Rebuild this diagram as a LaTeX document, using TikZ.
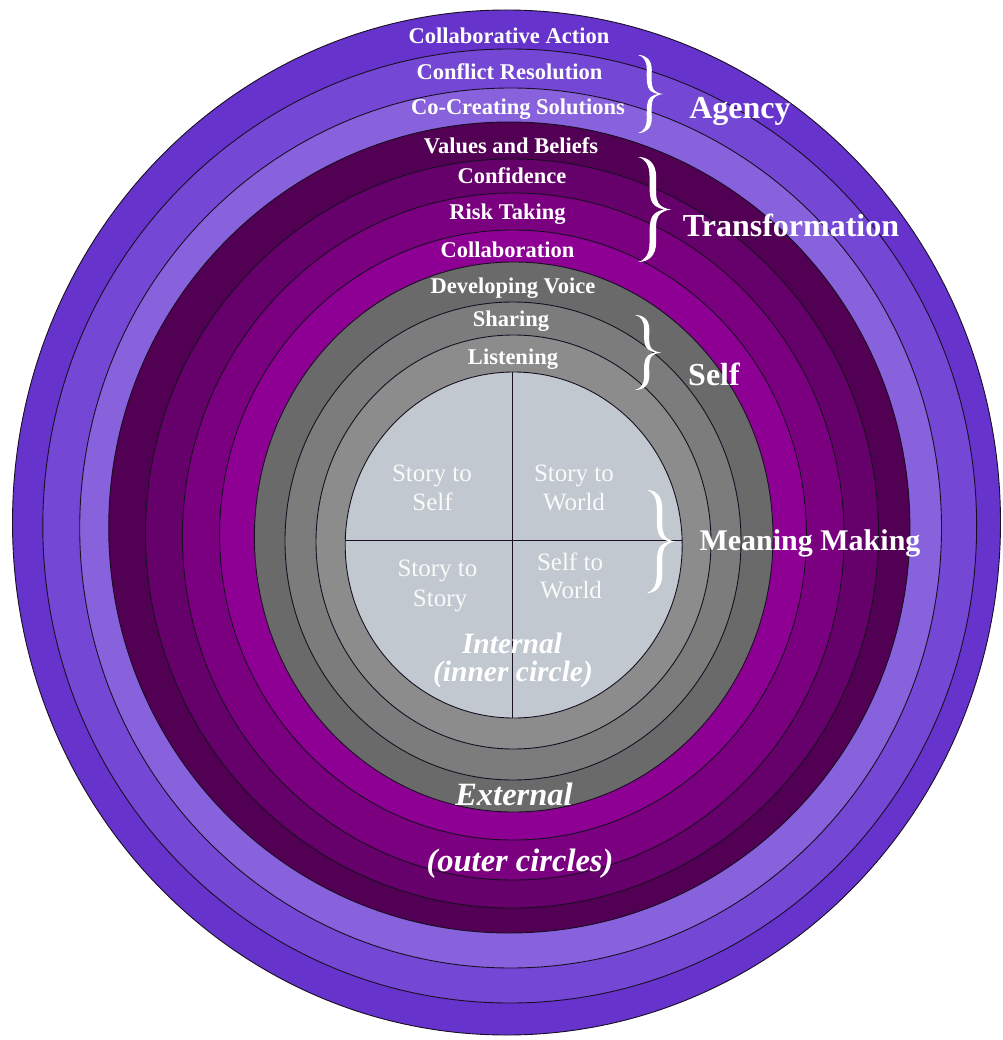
\documentclass[tikz,border=0pt]{standalone}
\usepackage{fontspec}
\setmainfont{Liberation Serif}
% ring fills, outermost first
\definecolor{ringK}{RGB}{102,51,204}
\definecolor{ringJ}{RGB}{116,72,212}
\definecolor{ringI}{RGB}{136,98,220}
\definecolor{ringH}{RGB}{82,0,84}
\definecolor{ringG}{RGB}{102,0,106}
\definecolor{ringF}{RGB}{122,0,128}
\definecolor{ringE}{RGB}{142,0,148}
\definecolor{ringD}{RGB}{106,106,106}
\definecolor{ringC}{RGB}{124,124,124}
\definecolor{ringB}{RGB}{140,140,140}
\definecolor{core}{RGB}{193,200,207}
\definecolor{edge}{RGB}{25,15,35}
\begin{document}
\begin{tikzpicture}[x=1pt,y=-1pt,
  ringline/.style={draw=edge, line width=0.9pt},
  ringlabel/.style={text=white, font=\bfseries\fontsize{22.5}{24}\selectfont, anchor=base, inner sep=0},
  grouplabel/.style={text=white, font=\bfseries\fontsize{32}{34}\selectfont, anchor=base, inner sep=0},
  quadlabel/.style={text=white!96!gray, font=\fontsize{25}{28}\selectfont, anchor=base, inner sep=0},
  placelabel/.style={text=white, font=\bfseries\itshape\fontsize{30}{32}\selectfont, anchor=base, inner sep=0},
  % a calligraphic closing brace, unit width, from y=-1 to y=1, tip at (1,0)
  curlybrace/.pic={
    \fill[white]
      (0,1) .. controls (0.32,1.0) and (0.55,0.88) .. (0.55,0.62)
      .. controls (0.55,0.38) and (0.52,0.22) .. (0.62,0.12)
      .. controls (0.70,0.05) and (0.85,0.01) .. (1,0)
      .. controls (0.85,-0.01) and (0.70,-0.05) .. (0.62,-0.12)
      .. controls (0.52,-0.22) and (0.55,-0.38) .. (0.55,-0.62)
      .. controls (0.55,-0.88) and (0.32,-1.0) .. (0,-1)
      .. controls (0.22,-0.96) and (0.35,-0.86) .. (0.35,-0.62)
      .. controls (0.35,-0.36) and (0.33,-0.18) .. (0.50,-0.08)
      .. controls (0.60,-0.03) and (0.72,-0.01) .. (0.80,0)
      .. controls (0.72,0.01) and (0.60,0.03) .. (0.50,0.08)
      .. controls (0.33,0.18) and (0.35,0.36) .. (0.35,0.62)
      .. controls (0.35,0.86) and (0.22,0.96) .. (0,1) -- cycle;
  },
]
\useasboundingbox (0,0) rectangle (1002,1040);

% concentric rings, drawn from the outside in
\path[ringline, fill=ringK] (506.5,522.5) ellipse [x radius=494,   y radius=512.5];
\path[ringline, fill=ringJ] (509.7,526)   ellipse [x radius=466.9, y radius=477];
\path[ringline, fill=ringI] (510.6,528)   ellipse [x radius=430.9, y radius=440];
\path[ringline, fill=ringH] (509.3,527.5) ellipse [x radius=400.6, y radius=405.5];
\path[ringline, fill=ringG] (512,533.5)   ellipse [x radius=366.5, y radius=374.5];
\path[ringline, fill=ringF] (513.2,536.5) ellipse [x radius=330.8, y radius=343.5];
\path[ringline, fill=ringE] (513,535)     ellipse [x radius=293.4, y radius=305];
\path[ringline, fill=ringD] (513.7,537)   ellipse [x radius=259.3, y radius=275];
\path[ringline, fill=ringC] (513,541)     ellipse [x radius=228,   y radius=239];
\path[ringline, fill=ringB] (513.5,542)   ellipse [x radius=197.5, y radius=207];
\path[ringline, fill=core]  (513.7,545)   ellipse [x radius=168.5, y radius=173];

% quadrant dividers of the inner circle
\begin{scope}
  \clip (513.7,545) ellipse [x radius=168.5, y radius=173];
  \draw[ringline] (512,360) -- (512,730);
  \draw[ringline] (330,540) -- (700,540);
\end{scope}

% ring names
\node[ringlabel] (lAction)   at (509,43.3)  {Collaborative Action};
\node[ringlabel] (lConflict) at (509.5,80)  {Conflict Resolution};
\node[ringlabel] (lCoCreate) at (518,115)   {Co-Creating Solutions};
\node[ringlabel] (lValues)   at (511,153.3) {Values and Beliefs};
\node[ringlabel] (lConfid)   at (512,183.3) {Confidence};
\node[ringlabel] (lRisk)     at (507.5,219.3) {Risk Taking};
\node[ringlabel] (lCollab)   at (507.5,257.3) {Collaboration};
\node[ringlabel] (lVoice)    at (513,293.3) {Developing Voice};
\node[ringlabel] (lSharing)  at (511,326.7) {Sharing};
\node[ringlabel] (lListen)   at (513,364.3) {Listening};

% group braces and names
\pic[xscale=25, yscale=39]   at (638,94)    {curlybrace};
\pic[xscale=33, yscale=52.5] at (638,209.5) {curlybrace};
\pic[xscale=26, yscale=37.5] at (635,352.5) {curlybrace};
\pic[xscale=28, yscale=51.5] at (647,541.5) {curlybrace};

\node[grouplabel] (gAgency) at (740,118.3) {Agency};
\node[grouplabel] (gTrans)  at (791,236.7) {Transformation};
\node[grouplabel] (gSelf)   at (714,385)   {Self};
\node[grouplabel, font=\bfseries\fontsize{30}{32}\selectfont] (gMean) at (810,550) {Meaning Making};

% quadrant texts
\node[quadlabel] (qA1) at (432,481.7) {Story to};
\node[quadlabel] (qA2) at (432.5,510) {Self};
\node[quadlabel] (qB1) at (574,481.7) {Story to};
\node[quadlabel] (qB2) at (574,510.7) {World};
\node[quadlabel] (qC1) at (437.5,576.7) {Story to};
\node[quadlabel] (qC2) at (440,606.7) {Story};
\node[quadlabel] (qD1) at (570,570) {Self to};
\node[quadlabel] (qD2) at (571,598) {World};

% inside / outside captions
\node[placelabel, font=\bfseries\itshape\fontsize{29.5}{31}\selectfont] (pIn1) at (512,653.3) {Internal};
\node[placelabel, font=\bfseries\itshape\fontsize{29.5}{31}\selectfont] (pIn2) at (513,681.7) {(inner circle)};
\node[placelabel, font=\bfseries\itshape\fontsize{32.5}{34}\selectfont] (pOut1) at (514,805) {External};
\node[placelabel, font=\bfseries\itshape\fontsize{32.5}{34}\selectfont] (pOut2) at (520,871.7) {(outer circles)};
\end{tikzpicture}
\end{document}
